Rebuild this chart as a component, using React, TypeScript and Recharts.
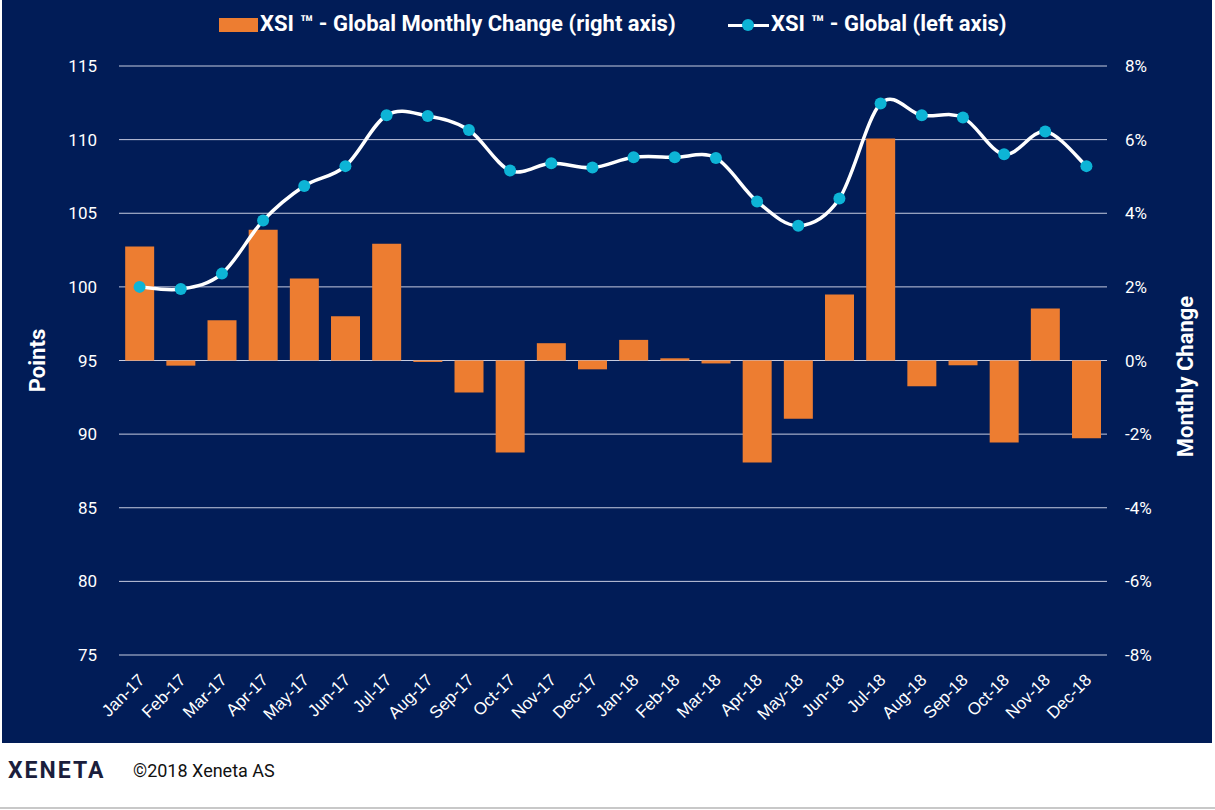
// XSI Global index + monthly change (combo chart, bars on right axis)
import React from 'react'
import {
  ComposedChart, Bar, Line, XAxis, YAxis, CartesianGrid, Label
} from 'recharts'

const months = [
  'Jan-17', 'Feb-17', 'Mar-17', 'Apr-17', 'May-17', 'Jun-17',
  'Jul-17', 'Aug-17', 'Sep-17', 'Oct-17', 'Nov-17', 'Dec-17',
  'Jan-18', 'Feb-18', 'Mar-18', 'Apr-18', 'May-18', 'Jun-18',
  'Jul-18', 'Aug-18', 'Sep-18', 'Oct-18', 'Nov-18', 'Dec-18'
]

// left axis, points
const xsiGlobal = [
  100.0, 99.85, 100.9, 104.5, 106.85, 108.2,
  111.65, 111.6, 110.65, 107.9, 108.4, 108.1,
  108.8, 108.8, 108.75, 105.8, 104.15, 106.0,
  112.45, 111.65, 111.5, 109.0, 110.55, 108.2
]

// right axis, %
const monthlyChange = [
  3.1, -0.14, 1.09, 3.55, 2.23, 1.2,
  3.17, -0.04, -0.87, -2.5, 0.47, -0.24,
  0.56, 0.06, -0.08, -2.77, -1.58, 1.79,
  6.03, -0.7, -0.13, -2.23, 1.41, -2.11
]

const leftTicks = [75, 80, 85, 90, 95, 100, 105, 110, 115]
const rightTicks = [-8, -6, -4, -2, 0, 2, 4, 6, 8]

const NAVY = '#011c57'
const ORANGE = '#ed7d31'
const CYAN = '#0db4d6'
const FONT = 'Roboto, "Noto Sans", sans-serif'
const TICK_FONT = '"Liberation Sans", Arial, sans-serif'

const chartData = months.map((month, i) => ({
  month,
  index: xsiGlobal[i],
  change: monthlyChange[i]
}))

// excel-ish smoothed line (catmull-rom through the points)
const excelSmooth = (context: any) => {
  let pts: number[][] = []
  return {
    areaStart() {},
    areaEnd() {},
    lineStart() { pts = [] },
    point(x: number, y: number) { pts.push([+x, +y]) },
    lineEnd() {
      if (!pts.length) return
      context.moveTo(pts[0][0], pts[0][1])
      for (let i = 0; i < pts.length - 1; i++) {
        const p0 = pts[Math.max(i - 1, 0)]
        const p1 = pts[i]
        const p2 = pts[i + 1]
        const p3 = pts[Math.min(i + 2, pts.length - 1)]
        context.bezierCurveTo(
          p1[0] + (p2[0] - p0[0]) / 6, p1[1] + (p2[1] - p0[1]) / 6,
          p2[0] - (p3[0] - p1[0]) / 6, p2[1] - (p3[1] - p1[1]) / 6,
          p2[0], p2[1]
        )
      }
    }
  }
}

const MonthTick = ({ x, y, payload }: any) => (
  <g transform={`translate(${x + 6},${y + 24})`}>
    <text
      transform="rotate(-45)"
      textAnchor="end"
      fill="#fff"
      fontSize={17}
      fontFamily={TICK_FONT}
    >
      {payload.value}
    </text>
  </g>
)

const LegendBar = () => (
  <div style={{ position: 'absolute', left: 0, top: 12, width: 1212, height: 30, fontFamily: FONT, fontWeight: 700, fontSize: 22, color: '#fff' }}>
    <div style={{ position: 'absolute', left: 217, top: 6, width: 39, height: 14, background: ORANGE }} />
    <span style={{ position: 'absolute', left: 258, top: -1, whiteSpace: 'nowrap' }}>
      XSI ™ - Global Monthly Change (right axis)
    </span>
    <div style={{ position: 'absolute', left: 726, top: 12, width: 41, height: 3, background: '#fff' }} />
    <div style={{ position: 'absolute', left: 740, top: 7, width: 12, height: 12, borderRadius: 6, background: CYAN }} />
    <span style={{ position: 'absolute', left: 769, top: -1, whiteSpace: 'nowrap' }}>
      XSI ™ - Global (left axis)
    </span>
  </div>
)

export default function App() {
  return (
    <div style={{ position: 'absolute', left: 0, top: 0, width: 1215, height: 810, background: '#fff' }}>
      <div style={{ position: 'absolute', left: 2, top: 0, width: 1210, height: 743, background: NAVY }}>
        <ComposedChart
          width={1210}
          height={743}
          data={chartData}
          margin={{ top: 66, right: 0, bottom: 0, left: 0 }}
          barCategoryGap="15%"
        >
          <CartesianGrid yAxisId="left" vertical={false} stroke="#c6cbe0" strokeWidth={1} />
          <XAxis
            dataKey="month"
            interval={0}
            height={88}
            tick={<MonthTick />}
            tickLine={false}
            axisLine={false}
            tickSize={0}
          />
          <YAxis
            yAxisId="left"
            orientation="left"
            width={117}
            domain={[75, 115]}
            ticks={leftTicks}
            tickLine={false}
            axisLine={false}
            tickSize={0}
            tickMargin={22}
            tick={{ fill: '#fff', fontSize: 17, fontFamily: FONT }}
          >
            <Label
              content={({ viewBox }: any) => (
                <text
                  transform={`translate(${viewBox.x + 43},${viewBox.y + viewBox.height / 2}) rotate(-90)`}
                  textAnchor="middle"
                  fill="#fff"
                  fontSize={22}
                  fontWeight={700}
                  fontFamily={FONT}
                >
                  Points
                </text>
              )}
            />
          </YAxis>
          <YAxis
            yAxisId="right"
            orientation="right"
            width={105}
            domain={[-8, 8]}
            ticks={rightTicks}
            tickFormatter={(v: number) => `${v}%`}
            tickLine={false}
            axisLine={false}
            tickSize={0}
            tickMargin={18}
            tick={{ fill: '#fff', fontSize: 17, fontFamily: FONT }}
          >
            <Label
              content={({ viewBox }: any) => (
                <text
                  transform={`translate(${viewBox.x + 86},${viewBox.y + viewBox.height / 2 + 16}) rotate(-90)`}
                  textAnchor="middle"
                  fill="#fff"
                  fontSize={22}
                  fontWeight={700}
                  fontFamily={FONT}
                >
                  Monthly Change
                </text>
              )}
            />
          </YAxis>
          <Bar
            yAxisId="right"
            dataKey="change"
            fill={ORANGE}
            isAnimationActive={false}
          />
          <Line
            yAxisId="left"
            dataKey="index"
            type={excelSmooth as any}
            stroke="#fff"
            strokeWidth={3.5}
            dot={{ r: 6, fill: CYAN, stroke: 'none' }}
            activeDot={false}
            isAnimationActive={false}
          />
        </ComposedChart>
        <LegendBar />
      </div>
      <div style={{ position: 'absolute', left: 8, top: 757, fontFamily: FONT, fontWeight: 700, fontSize: 23, letterSpacing: 2, color: '#1b1e3c' }}>
        XENETA
      </div>
      <div style={{ position: 'absolute', left: 133, top: 760, fontFamily: FONT, fontSize: 18, color: '#111' }}>
        ©2018 Xeneta AS
      </div>
      <div style={{ position: 'absolute', left: 0, top: 807, width: 1215, height: 2, background: '#c8c8c8' }} />
    </div>
  )
}
